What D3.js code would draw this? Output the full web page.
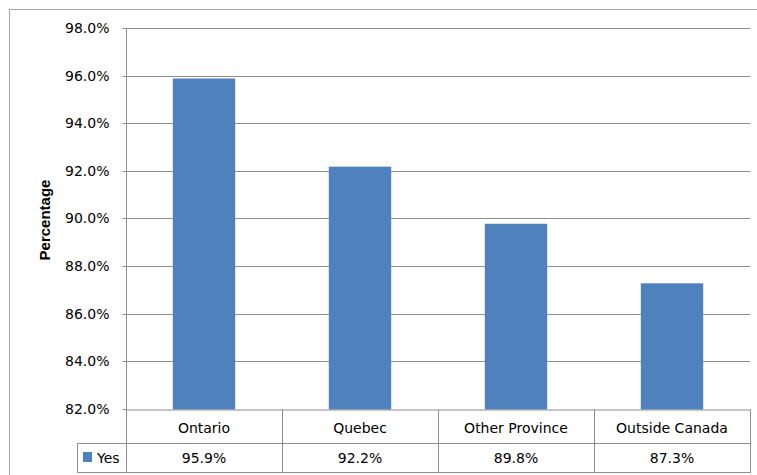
<!DOCTYPE html>
<html><head><meta charset="utf-8">
<script src="https://cdn.jsdelivr.net/npm/d3@7"></script>
<style>body{margin:0;background:#fff}svg{display:block}</style>
</head><body>
<script>
const categories = ["Ontario", "Quebec", "Other Province", "Outside Canada"];
const seriesName = "Yes";
const values = [0.959, 0.922, 0.898, 0.873];
const tickValues = [0.82, 0.84, 0.86, 0.88, 0.90, 0.92, 0.94, 0.96, 0.98];
const yLabel = "Percentage";

const W = 757, H = 475;
const plotLeft = 126, plotRight = 750, plotTop = 28.5, plotBottom = 409.5;
const row1 = 443, row2 = 472, legendLeft = 77;
const font = "DejaVu Sans, sans-serif";
const gridColor = "#8e8e8e";

const svg = d3.select("body").append("svg").attr("width", W).attr("height", H);

// outer chart border
svg.append("rect").attr("x", 9.5).attr("y", 9.5).attr("width", W + 10).attr("height", H + 10)
  .attr("fill", "none").attr("stroke", "#a6a6a6").attr("stroke-width", 1);

const x = d3.scaleBand().domain(categories).range([plotLeft, plotRight]).padding(0);
const y = d3.scaleLinear().domain([0.82, 0.98]).range([plotBottom, plotTop]);
const snap = v => Math.round(v - 0.5) + 0.5;

// gridlines
svg.append("g").selectAll("line").data(tickValues.slice(1)).join("line")
  .attr("x1", plotLeft).attr("x2", plotRight)
  .attr("y1", d => snap(y(d))).attr("y2", d => snap(y(d)))
  .attr("stroke", gridColor).attr("stroke-width", 1);

// y axis
const yAxis = d3.axisLeft(y).tickValues(tickValues).tickFormat(d3.format(".1%")).tickSize(4).tickPadding(13);
const ga = svg.append("g").attr("transform", `translate(${plotLeft + 0.5},0)`).call(yAxis);
ga.select(".domain").remove();
ga.selectAll(".tick").attr("transform", d => `translate(0,${snap(y(d))})`);
ga.selectAll(".tick line").attr("stroke", gridColor);
ga.selectAll(".tick text").attr("font-family", font).attr("font-size", 14).attr("fill", "#000").attr("dy", "0.35em");
svg.append("line").attr("x1", plotLeft + 0.5).attr("x2", plotLeft + 0.5).attr("y1", plotTop).attr("y2", row2)
  .attr("stroke", gridColor);

// bars
const barW = x.bandwidth() * 0.4;
svg.append("g").selectAll("rect").data(values).join("rect")
  .attr("x", (d, i) => x(categories[i]) + (x.bandwidth() - barW) / 2)
  .attr("width", barW)
  .attr("y", d => y(d))
  .attr("height", d => plotBottom - y(d))
  .attr("fill", "#4f81bd");

// data table
const t = svg.append("g").attr("stroke", gridColor).attr("stroke-width", 1);
t.append("line").attr("x1", plotLeft).attr("x2", plotRight + 0.5).attr("y1", plotBottom + 0.5).attr("y2", plotBottom + 0.5);
t.append("line").attr("x1", legendLeft).attr("x2", plotRight + 0.5).attr("y1", row1 + 0.5).attr("y2", row1 + 0.5);
t.append("line").attr("x1", legendLeft).attr("x2", plotRight + 0.5).attr("y1", row2 + 0.5).attr("y2", row2 + 0.5);
t.append("line").attr("x1", legendLeft + 0.5).attr("x2", legendLeft + 0.5).attr("y1", row1).attr("y2", row2 + 1);
t.selectAll(".col").data(categories).join("line").attr("class", "col")
  .attr("x1", d => Math.round(x(d) + x.bandwidth()) + 0.5).attr("x2", d => Math.round(x(d) + x.bandwidth()) + 0.5)
  .attr("y1", plotBottom).attr("y2", row2 + 1);

svg.append("g").selectAll("text").data(categories).join("text")
  .attr("x", d => x(d) + x.bandwidth() / 2).attr("y", 433)
  .attr("text-anchor", "middle").attr("font-family", font).attr("font-size", 14).attr("fill", "#000")
  .text(d => d);
svg.append("g").selectAll("text").data(values).join("text")
  .attr("x", (d, i) => x(categories[i]) + x.bandwidth() / 2).attr("y", 463)
  .attr("text-anchor", "middle").attr("font-family", font).attr("font-size", 14).attr("fill", "#000")
  .text(d => d3.format(".1%")(d));

// legend key in table
svg.append("rect").attr("x", 83).attr("y", 452).attr("width", 9).attr("height", 10).attr("fill", "#4f81bd");
svg.append("text").attr("x", 97).attr("y", 463).attr("font-family", font).attr("font-size", 14).attr("fill", "#000").text(seriesName);

// y label
svg.append("text").attr("transform", `translate(49.5,220) rotate(-90)`)
  .attr("text-anchor", "middle").attr("font-family", "Liberation Sans, Arial, sans-serif").attr("font-size", 15).attr("font-weight", "bold")
  .attr("fill", "#000").text(yLabel);
</script>
</body></html>
